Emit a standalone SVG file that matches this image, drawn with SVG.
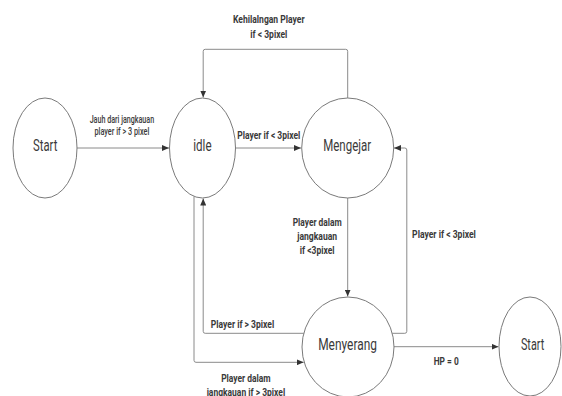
<svg xmlns="http://www.w3.org/2000/svg" width="562" height="396" viewBox="0 0 562 396">
  <style>
    .state { fill: #ffffff; stroke: #7a7a7a; stroke-width: 1; }
    .name { font-family: Roboto, "Liberation Sans", sans-serif; font-size: 17px; fill: #3a3a3a; text-anchor: middle; dominant-baseline: central; }
    .lbl { font-family: Roboto, "Liberation Sans", sans-serif; font-size: 11.5px; font-weight: bold; fill: #3a3a3a; text-anchor: middle; dominant-baseline: central; }
    .lbl.small { font-size: 10px; font-weight: 500; }
    .edge { fill: none; stroke: #8a8a8a; stroke-width: 1; marker-end: url(#arrow); }
  </style>
  <defs>
    <marker id="arrow" markerUnits="userSpaceOnUse" markerWidth="8" markerHeight="6" refX="7" refY="3" orient="auto">
      <path d="M0,0 L7,3 L0,6 Z" fill="#333333"/>
    </marker>
  </defs>
  <rect width="562" height="396" fill="#ffffff"/>

  <!-- transitions -->
  <g id="connectors">
    <path class="edge" d="M77,148 H169"/>
    <path class="edge" d="M235.5,148 H301"/>
    <path class="edge" d="M347.7,98 V51.3 Q347.7,49.3 345.7,49.3 H205.2 Q203.2,49.3 203.2,51.3 V97.5"/>
    <path class="edge" d="M347.7,198 V296.5"/>
    <path class="edge" d="M392,333.3 H404.8 Q406.8,333.3 406.8,331.3 V150 Q406.8,148 404.8,148 H394"/>
    <path class="edge" d="M304,333.3 H205.2 Q203.2,333.3 203.2,331.3 V198.5"/>
    <path class="edge" d="M194,196.3 V360.3 Q194,362.3 196,362.3 H303.7"/>
    <path class="edge" d="M393.5,346.7 H498.5"/>
  </g>

  <g id="labels">
    <text class="lbl" x="268.8" y="19.3" textLength="71.7" lengthAdjust="spacingAndGlyphs">Kehilalngan Player</text>
    <text class="lbl" x="268.8" y="34.3" textLength="37" lengthAdjust="spacingAndGlyphs">if &lt; 3pixel</text>
    <text class="lbl small" x="121.9" y="119" textLength="64.5" lengthAdjust="spacingAndGlyphs">Jauh dari jangkauan</text>
    <text class="lbl small" x="121.9" y="131" textLength="54.8" lengthAdjust="spacingAndGlyphs">player if &gt; 3 pixel</text>
    <text class="lbl" x="268.8" y="135" textLength="63" lengthAdjust="spacingAndGlyphs">Player if &lt; 3pixel</text>
    <text class="lbl" x="317.2" y="221.7" textLength="49" lengthAdjust="spacingAndGlyphs">Player dalam</text>
    <text class="lbl" x="317.2" y="236" textLength="40" lengthAdjust="spacingAndGlyphs">jangkauan</text>
    <text class="lbl" x="317.2" y="250.3" textLength="34.8" lengthAdjust="spacingAndGlyphs">if &lt;3pixel</text>
    <text class="lbl" x="444" y="234.3" textLength="63.8" lengthAdjust="spacingAndGlyphs">Player if &lt; 3pixel</text>
    <text class="lbl" x="242.5" y="324.3" textLength="63.4" lengthAdjust="spacingAndGlyphs">Player if &gt; 3pixel</text>
    <text class="lbl" x="245.9" y="377.7" textLength="49.5" lengthAdjust="spacingAndGlyphs">Player dalam</text>
    <text class="lbl" x="245.9" y="391.7" textLength="78.5" lengthAdjust="spacingAndGlyphs">jangkauan if &gt; 3pixel</text>
    <text class="lbl" x="446.2" y="361" textLength="25" lengthAdjust="spacingAndGlyphs">HP = 0</text>
  </g>

  <g id="start">
    <ellipse class="state" cx="45" cy="148" rx="32" ry="50"/>
    <text class="name" x="45.2" y="145" textLength="24.3" lengthAdjust="spacingAndGlyphs">Start</text>
  </g>
  <g id="idle">
    <ellipse class="state" cx="202.5" cy="148" rx="33" ry="50"/>
    <text class="name" x="202.4" y="145" textLength="18.3" lengthAdjust="spacingAndGlyphs">idle</text>
  </g>
  <g id="mengejar">
    <ellipse class="state" cx="347.7" cy="148" rx="46" ry="50"/>
    <text class="name" x="347.2" y="145" textLength="48" lengthAdjust="spacingAndGlyphs">Mengejar</text>
  </g>
  <g id="menyerang">
    <ellipse class="state" cx="348" cy="347" rx="46" ry="50"/>
    <text class="name" x="347.6" y="344.3" textLength="58.8" lengthAdjust="spacingAndGlyphs">Menyerang</text>
  </g>
  <g id="end">
    <ellipse class="state" cx="530" cy="346.5" rx="31" ry="49.5"/>
    <text class="name" x="532.6" y="344" textLength="23.3" lengthAdjust="spacingAndGlyphs">Start</text>
  </g>
</svg>
